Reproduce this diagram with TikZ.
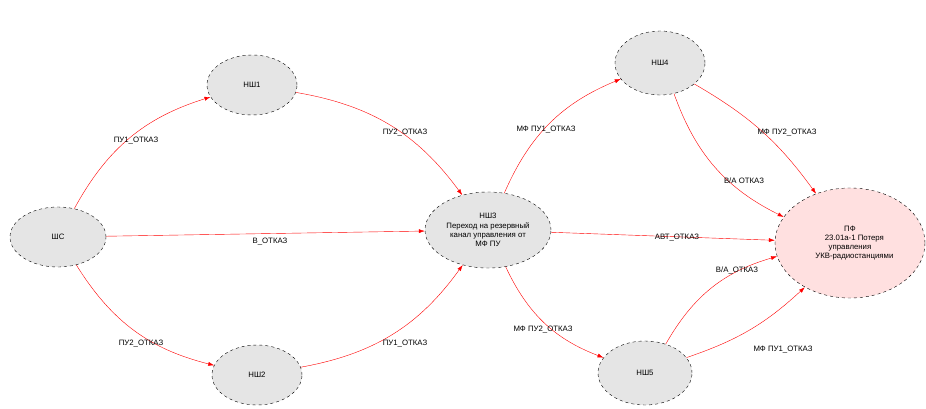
\documentclass[tikz,border=0pt]{standalone}
\usepackage{fontspec}
\setmainfont{Liberation Sans}
\usetikzlibrary{arrows.meta,shapes.geometric}
\begin{document}
\begin{tikzpicture}[x=1pt,y=-1pt,
 st/.style={ellipse,draw=black,dashed,fill=gray!20,inner sep=0pt,font=\fontsize{7.8}{9.2}\selectfont,align=center},
 e/.style={draw=red,-{Latex[length=6pt,width=4pt]}},
 lb/.style={font=\fontsize{7.8}{9}\selectfont,inner sep=1pt}]
\useasboundingbox (0,0) rectangle (926,408);
\node[st,minimum width=96,minimum height=60] (sc) at (58,237) {ШС};
\node[st,minimum width=90,minimum height=60] (n1) at (252,85) {НШ1};
\node[st,minimum width=90,minimum height=60] (n2) at (257,375) {НШ2};
\node[st,minimum width=126,minimum height=76] (n3) at (488,230) {НШ3\\Переход на резервный\\канал управления от\\МФ ПУ};
\node[st,minimum width=90,minimum height=64] (n4) at (660,63) {НШ4};
\node[st,minimum width=94,minimum height=64] (n5) at (645,373) {НШ5};
\node[st,fill=red!12,minimum width=150,minimum height=110] (pf) at (850,243) {ПФ\\ \ \ \ \ 23.01а-1 Потеря\\управления\\ \ \ \ \ УКВ-радиостанциями};
\draw[e] (sc) to[bend left=22] (n1);
\draw[e] (sc) to[bend right=22] (n2);
\draw[e] (sc) -- (n3);
\draw[e] (n1) to[bend left=22] (n3);
\draw[e] (n2) to[bend right=22] (n3);
\draw[e] (n3) to[bend left=22] (n4);
\draw[e] (n3) to[bend right=22] (n5);
\draw[e] (n3) -- (pf);
\draw[e] (n4) to[bend left=12] (pf);
\draw[e] (n4) to[bend right=22] (pf);
\draw[e] (n5) to[bend left=22] (pf);
\draw[e] (n5) to[bend right=12] (pf);
\node[lb] (l1) at (136,141) {ПУ1\_ОТКАЗ};
\node[lb] (l2) at (405,133) {ПУ2\_ОТКАЗ};
\node[lb] (l3) at (270,242) {В\_ОТКАЗ};
\node[lb] (l4) at (141,344) {ПУ2\_ОТКАЗ};
\node[lb] (l5) at (405,344) {ПУ1\_ОТКАЗ};
\node[lb] (l6) at (546,130) {МФ ПУ1\_ОТКАЗ};
\node[lb] (l7) at (787,133) {МФ ПУ2\_ОТКАЗ};
\node[lb] (l8) at (744,181) {В/А ОТКАЗ};
\node[lb] (l9) at (677,238) {АВТ\_ОТКАЗ};
\node[lb] (l10) at (737,270) {В/А\_ОТКАЗ};
\node[lb] (l11) at (543,330) {МФ ПУ2\_ОТКАЗ};
\node[lb] (l12) at (783,350) {МФ ПУ1\_ОТКАЗ};
\end{tikzpicture}
\end{document}
